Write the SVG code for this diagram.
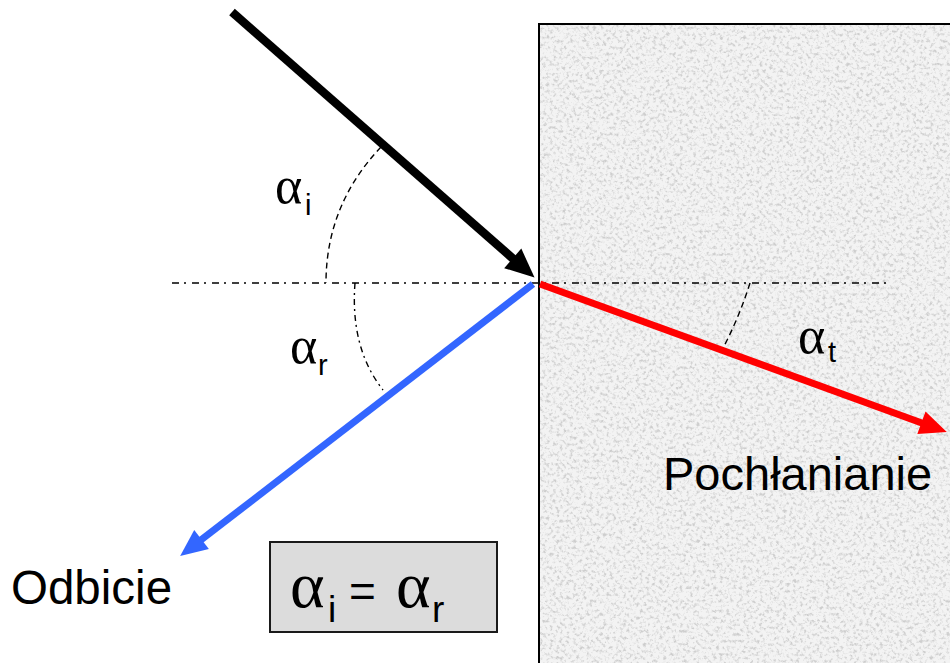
<svg xmlns="http://www.w3.org/2000/svg" width="950" height="663" viewBox="0 0 950 663">
  <style>
    .lbl { font-family: "Liberation Sans", Arial, sans-serif; fill: #000; }
    .greek { font-family: "Liberation Serif", "DejaVu Serif", serif; fill: #000; }
    .guide { fill: none; stroke: #000; stroke-width: 1.4; }
    .ray { fill: none; stroke-linecap: butt; }
  </style>
  <defs>
    <filter id="granite" x="0" y="0" width="100%" height="100%">
      <feTurbulence type="fractalNoise" baseFrequency="0.3" numOctaves="3" seed="7" result="n"/>
      <feColorMatrix in="n" type="matrix" values="0 0 0 0 0.62  0 0 0 0 0.62  0 0 0 0 0.62  -3.4 0 0 0 1.75" result="spk"/>
      <feComposite in="spk" in2="SourceGraphic" operator="in" result="clip"/>
      <feMerge>
        <feMergeNode in="SourceGraphic"/>
        <feMergeNode in="clip"/>
      </feMerge>
    </filter>
    <marker id="headBlack" markerUnits="userSpaceOnUse" markerWidth="40" markerHeight="40" refX="7" refY="0" viewBox="0 -20 40 40" orient="auto" overflow="visible">
      <path d="M0,-13 L29,0 L0,13 Z" fill="#000"/>
    </marker>
    <marker id="headBlue" markerUnits="userSpaceOnUse" markerWidth="40" markerHeight="40" refX="7" refY="0" viewBox="0 -20 40 40" orient="auto" overflow="visible">
      <path d="M0,-12 L27,0 L0,12 Z" fill="#3366ff"/>
    </marker>
    <marker id="headRed" markerUnits="userSpaceOnUse" markerWidth="40" markerHeight="40" refX="7" refY="0" viewBox="0 -20 40 40" orient="auto" overflow="visible">
      <path d="M0,-12 L27,0 L0,12 Z" fill="#ff0000"/>
    </marker>
  </defs>

  <rect width="950" height="663" fill="#ffffff"/>

  <g id="medium">
    <rect x="539" y="24" width="430" height="660" fill="#f3f3f3" filter="url(#granite)"/>
    <path d="M539,684 L539,24 L960,24" fill="none" stroke="#000" stroke-width="2"/>
  </g>

  <g id="guides">
    <line class="guide" x1="172" y1="283" x2="890" y2="283" stroke-dasharray="7 5 2 6"/>
    <path class="guide" d="M381,147 Q326,205 326,283" stroke-dasharray="6 4"/>
    <path class="guide" d="M355,283 Q350,348 383,390" stroke-dasharray="6 4 2 4"/>
    <path class="guide" d="M750,283 Q739,318 722,350" stroke-dasharray="6 4"/>
  </g>

  <g id="connectors">
    <line class="ray" x1="232" y1="12" x2="518" y2="263" stroke="#000" stroke-width="8.5" marker-end="url(#headBlack)"/>
    <line class="ray" x1="533" y1="284" x2="196" y2="543.8" stroke="#3366ff" stroke-width="7" marker-end="url(#headBlue)"/>
    <line class="ray" x1="540" y1="284" x2="928" y2="425.2" stroke="#ff0000" stroke-width="7" marker-end="url(#headRed)"/>
  </g>

  <g id="label-alpha-i">
    <text class="greek" x="275" y="203" font-size="52">α</text>
    <text class="lbl" x="305" y="215" font-size="29">i</text>
  </g>
  <g id="label-alpha-r">
    <text class="greek" x="290" y="363" font-size="52">α</text>
    <text class="lbl" x="318" y="375" font-size="29">r</text>
  </g>
  <g id="label-alpha-t">
    <text class="greek" x="798" y="353" font-size="52">α</text>
    <text class="lbl" x="828" y="362" font-size="29">t</text>
  </g>

  <g id="label-pochlanianie">
    <text class="lbl" x="663" y="490" font-size="47">Pochłanianie</text>
  </g>
  <g id="label-odbicie">
    <text class="lbl" x="11" y="604" font-size="47.5">Odbicie</text>
  </g>

  <g id="equation-box">
    <rect x="270" y="542" width="227" height="90" fill="#dcdcdc" stroke="#1a1a1a" stroke-width="2"/>
    <text class="greek" x="290" y="607" font-size="66">α</text>
    <text class="lbl" x="328" y="622" font-size="37">i</text>
    <text class="lbl" x="349" y="607" font-size="46">=</text>
    <text class="greek" x="396" y="607" font-size="66">α</text>
    <text class="lbl" x="432" y="622" font-size="37">r</text>
  </g>
</svg>
